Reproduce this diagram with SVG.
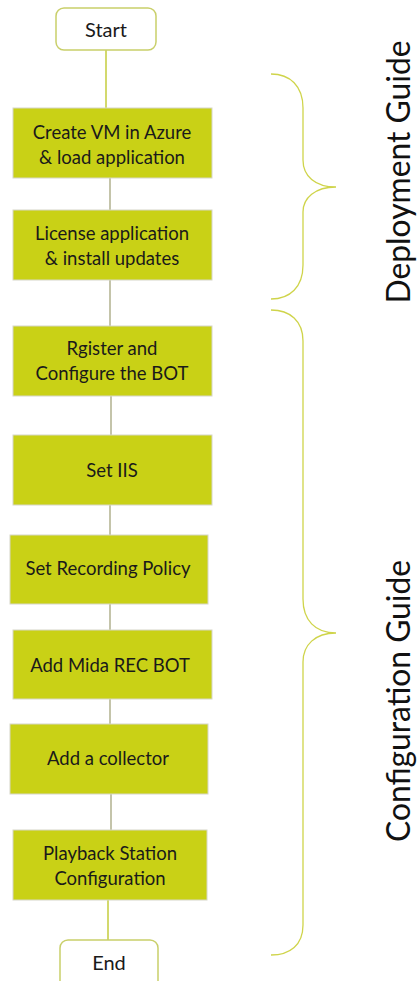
<svg xmlns="http://www.w3.org/2000/svg" width="418" height="981" viewBox="0 0 418 981">
<style>
.box{fill:#c9d116;stroke:#d6d6c8;stroke-width:1}
.term{fill:#ffffff;stroke:#c9cf6a;stroke-width:1.5}
.t{font-family:"Lato","Open Sans",sans-serif;font-size:18.5px;fill:#1a1a1a;text-anchor:middle;dominant-baseline:central}
.tt{font-size:20px}
.big{font-family:"Lato","Open Sans",sans-serif;font-size:32px;fill:#111111;text-anchor:middle}
.ln{stroke:#b0b08e;stroke-width:1.5;fill:none}
.lg{stroke:#c5cc3c;stroke-width:1.5;fill:none}
.br{stroke:#cfd44a;stroke-width:1.3;fill:none}
</style>
<rect width="418" height="981" fill="#ffffff"/>
<g id="connectors">
<line class="lg" x1="106" y1="50" x2="106" y2="108"/>
<line class="ln" x1="110" y1="178" x2="110" y2="210"/>
<line class="ln" x1="110" y1="280" x2="110" y2="326"/>
<line class="ln" x1="111" y1="396" x2="111" y2="435"/>
<line class="ln" x1="110" y1="505" x2="110" y2="535"/>
<line class="ln" x1="110" y1="604" x2="110" y2="630"/>
<line class="ln" x1="110" y1="699" x2="110" y2="724"/>
<line class="ln" x1="111" y1="794" x2="111" y2="830"/>
<line class="lg" x1="108" y1="900" x2="108" y2="940"/>
</g>
<g id="start"><rect class="term" x="56" y="8" width="100" height="42" rx="8"/><text class="t tt" x="106" y="29">Start</text></g>
<g id="n1"><rect class="box" x="13" y="108" width="199" height="70"/><text class="t" x="112" y="132">Create VM in Azure</text><text class="t" x="112" y="157">&amp; load application</text></g>
<g id="n2"><rect class="box" x="13" y="210" width="199" height="70"/><text class="t" x="112" y="233">License application</text><text class="t" x="112" y="258">&amp; install updates</text></g>
<g id="n3"><rect class="box" x="13" y="326" width="199" height="70"/><text class="t" x="112" y="348">Rgister and</text><text class="t" x="112" y="373">Configure the BOT</text></g>
<g id="n4"><rect class="box" x="13" y="435" width="199" height="70"/><text class="t" x="112" y="470">Set IIS</text></g>
<g id="n5"><rect class="box" x="10" y="535" width="198" height="69"/><text class="t" x="108" y="568">Set Recording Policy</text></g>
<g id="n6"><rect class="box" x="13" y="630" width="199" height="69"/><text class="t" x="110" y="665">Add Mida REC BOT</text></g>
<g id="n7"><rect class="box" x="10" y="724" width="198" height="70"/><text class="t" x="108" y="758">Add a collector</text></g>
<g id="n8"><rect class="box" x="13" y="830" width="194" height="70"/><text class="t" x="110" y="853">Playback Station</text><text class="t" x="110" y="878">Configuration</text></g>
<g id="end"><rect class="term" x="60" y="940" width="98" height="52" rx="8"/><text class="t tt" x="109" y="962">End</text></g>
<g id="brace-deployment">
<path class="br" d="M271,74 C290,74 303,86 303,108 L303,160 C303,176 315,187 336,187 C315,187 303,198 303,212 L303,265 C303,287 290,299 271,299"/>
<text class="big" transform="translate(410,172) rotate(-90)" textLength="263" lengthAdjust="spacingAndGlyphs">Deployment Guide</text>
</g>
<g id="brace-configuration">
<path class="br" d="M271,310 C290,310 303,321 303,341 L303,599 C303,620 315,633 336,633 C315,633 303,645 303,662 L303,925 C303,945 290,955 271,955"/>
<text class="big" transform="translate(410,701) rotate(-90)" textLength="282" lengthAdjust="spacingAndGlyphs">Configuration Guide</text>
</g>
</svg>
